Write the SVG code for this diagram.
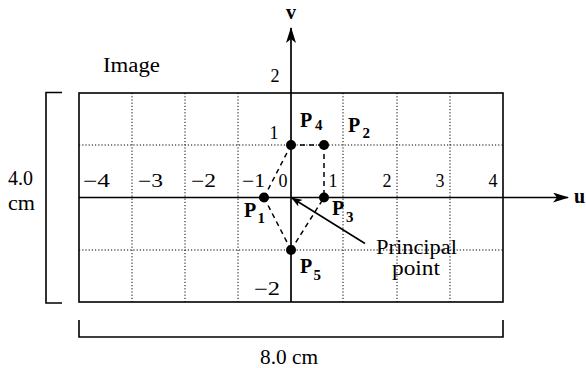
<svg xmlns="http://www.w3.org/2000/svg" width="586" height="368" viewBox="0 0 586 368">
<style>
text{font-family:"Liberation Serif","Times New Roman","DejaVu Serif",serif;fill:#000}
.t{font-size:18px}
.lbl{font-size:20px}
.b{font-weight:bold}
.sub{font-size:15px;font-weight:bold}
.grid{stroke:#000;stroke-width:1;stroke-dasharray:1.2 2;fill:none}
.frame{stroke:#000;stroke-width:1.6;fill:none}
.axis{stroke:#000;stroke-width:1.7;fill:none}
.dash{stroke:#000;stroke-width:1.5;stroke-dasharray:5 4;fill:none}
.dot{fill:#000}
</style>
<defs>
<marker id="ah" viewBox="0 0 16 10" refX="15" refY="5" markerWidth="16" markerHeight="10" markerUnits="userSpaceOnUse" orient="auto">
<path d="M0,0 L16,5 L0,10 L4,5 z" fill="#000"/>
</marker>
<marker id="ahs" viewBox="0 0 11 8" refX="10" refY="4" markerWidth="11" markerHeight="8" markerUnits="userSpaceOnUse" orient="auto">
<path d="M0,0 L11,4 L0,8 L3,4 z" fill="#000"/>
</marker>
</defs>

<!-- grid -->
<g id="grid">
<path class="grid" d="M132,93V302M185,93V302M238,93V302M343,93V302M397,93V302M450,93V302M79,145H503M79,250H503"/>
</g>
<rect class="frame" x="79" y="93" width="424" height="209"/>

<!-- axes -->
<g id="axes">
<line class="axis" x1="79" y1="197.5" x2="568" y2="197.5" marker-end="url(#ah)"/>
<line class="axis" x1="291" y1="302" x2="291" y2="28" marker-end="url(#ah)"/>
<text class="lbl b" x="291" y="19" text-anchor="middle">v</text>
<text class="lbl b" x="574" y="203">u</text>
</g>

<!-- tick labels -->
<g id="ticks">
<text class="t" x="83" y="187" textLength="27" lengthAdjust="spacingAndGlyphs">−4</text>
<text class="t" x="138" y="187" textLength="25" lengthAdjust="spacingAndGlyphs">−3</text>
<text class="t" x="191" y="187" textLength="25" lengthAdjust="spacingAndGlyphs">−2</text>
<text class="t" x="242" y="187" textLength="23" lengthAdjust="spacingAndGlyphs">−1</text>
<text class="t" x="283" y="187" text-anchor="middle">0</text>
<text class="t" x="333" y="187" text-anchor="middle">1</text>
<text class="t" x="387" y="187" text-anchor="middle">2</text>
<text class="t" x="440" y="187" text-anchor="middle">3</text>
<text class="t" x="493" y="187" text-anchor="middle">4</text>
<text class="t" x="275" y="82" text-anchor="middle">2</text>
<text class="t" x="274" y="138.5" text-anchor="middle">1</text>
<text class="t" x="254" y="295" textLength="26" lengthAdjust="spacingAndGlyphs">−2</text>
</g>

<!-- connectors -->
<g id="connectors">
<line class="dash" x1="291" y1="145" x2="324" y2="145"/>
<line class="dash" x1="324" y1="145" x2="324" y2="197.5"/>
<line class="dash" x1="291" y1="145" x2="264" y2="197.5"/>
<line class="dash" x1="264" y1="197.5" x2="291" y2="250"/>
<line class="dash" x1="291" y1="250" x2="324" y2="197.5"/>
<line stroke="#000" stroke-width="1.6" x1="365" y1="243.5" x2="292" y2="198" marker-end="url(#ahs)"/>
</g>

<!-- points -->
<g id="P1"><circle class="dot" cx="264" cy="197.5" r="5"/><text class="lbl b" x="244" y="217">P</text><text class="sub" x="257.5" y="223">1</text></g>
<g id="P2"><circle class="dot" cx="324" cy="145" r="5"/><text class="lbl b" x="348" y="132">P</text><text class="sub" x="362.5" y="138">2</text></g>
<g id="P3"><circle class="dot" cx="324" cy="197.5" r="5"/><text class="lbl b" x="332" y="215">P</text><text class="sub" x="346" y="222">3</text></g>
<g id="P4"><circle class="dot" cx="291" cy="145" r="5"/><text class="lbl b" x="300" y="127">P</text><text class="sub" x="315" y="130">4</text></g>
<g id="P5"><circle class="dot" cx="291" cy="250" r="5"/><text class="lbl b" x="300" y="273">P</text><text class="sub" x="313.5" y="280">5</text></g>

<!-- principal point label -->
<g id="principal">
<text class="lbl" x="376" y="254" textLength="81" lengthAdjust="spacingAndGlyphs">Principal</text>
<text class="lbl" x="392" y="275" textLength="48" lengthAdjust="spacingAndGlyphs">point</text>
</g>

<text class="lbl" x="103" y="71.5" textLength="57" lengthAdjust="spacingAndGlyphs">Image</text>

<!-- dimension brackets -->
<g id="dims">
<path class="frame" d="M62,92.5H46V303H62"/>
<path class="frame" d="M79,320V337H503V320"/>
<text class="lbl" x="8" y="185" textLength="25" lengthAdjust="spacingAndGlyphs">4.0</text>
<text class="lbl" x="8" y="210" textLength="27" lengthAdjust="spacingAndGlyphs">cm</text>
<text class="lbl" x="260" y="364" textLength="58" lengthAdjust="spacingAndGlyphs">8.0 cm</text>
</g>
</svg>
